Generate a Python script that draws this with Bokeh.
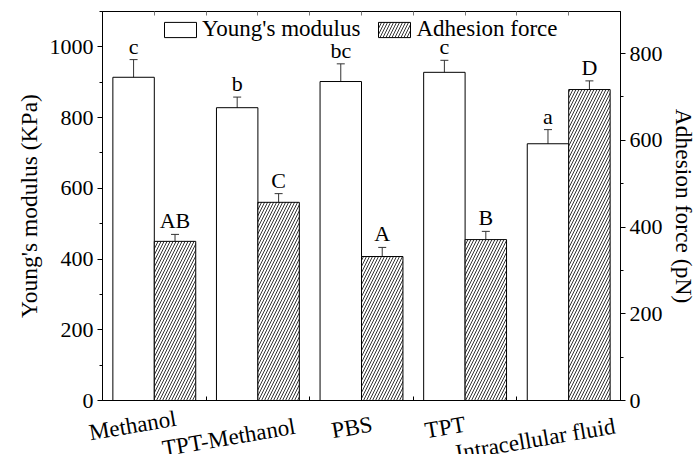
import numpy as np
from bokeh.plotting import figure
from bokeh.layouts import column
from bokeh.models import (Range1d, LinearAxis, ColumnDataSource, Whisker, LabelSet,
                          Legend, LegendItem, FixedTicker, SingleIntervalTicker, TeeHead)
from bokeh.embed import file_html
from bokeh.resources import INLINE

# ---------------- data ----------------
categories = ["Methanol", "TPT-Methanol", "PBS", "TPT", "Intracellular fluid"]
youngs_modulus = [914, 828, 902, 928, 726]          # KPa
youngs_err = [50, 30, 50, 34, 40]
youngs_letters = ["c", "b", "bc", "c", "a"]
adhesion_force = [367, 457, 332, 371, 717]          # pN
adhesion_err = [16, 20, 21, 19, 20]
adhesion_letters = ["AB", "C", "A", "B", "D"]

# ---------------- layout / style ----------------
FONT = "Liberation Serif"
W = 699
BORDER_L, BORDER_R, BORDER_T = 102, 76, 11
FRAME_BOTTOM = 400    # y pixel of the x axis line
MAIN_H = 410          # main chart height
LABEL_H = 44          # strip under the chart holding the category labels
label_dx = [-22, -30, -11, -22, -36]   # manual placement of category labels (px)
label_dy = [-25, -37, -27, -27, -39]
BAR_W = 0.4
ERR_COLOR = "#333333"

n = len(categories)
x_center = np.arange(n) + 0.5
src = ColumnDataSource(dict(
    x_y=x_center - BAR_W / 2,
    x_a=x_center + BAR_W / 2,
    ym=youngs_modulus,
    ym_up=[v + e for v, e in zip(youngs_modulus, youngs_err)],
    ym_lo=[v - e for v, e in zip(youngs_modulus, youngs_err)],
    yl=youngs_letters,
    af=adhesion_force,
    af_up=[v + e for v, e in zip(adhesion_force, adhesion_err)],
    af_lo=[v - e for v, e in zip(adhesion_force, adhesion_err)],
    al=adhesion_letters,
))

p = figure(width=W, height=MAIN_H, x_range=Range1d(0, n), y_range=Range1d(0, 1100),
           output_backend="svg", toolbar_location=None,
           min_border_left=BORDER_L, min_border_right=BORDER_R, min_border_top=BORDER_T,
           min_border_bottom=MAIN_H - FRAME_BOTTOM)
p.frame_align = False
p.extra_y_ranges = {"right": Range1d(0, 897)}
p.xgrid.visible = False
p.ygrid.visible = False
p.outline_line_color = "black"
p.outline_line_alpha = 1.0
p.background_fill_color = "white"
p.border_fill_color = "white"

r1 = p.vbar(x="x_y", top="ym", width=BAR_W, source=src, fill_color="white",
            line_color="black", line_width=1)
r2 = p.vbar(x="x_a", top="af", width=BAR_W, source=src, fill_color="white",
            line_color="black", line_width=1, hatch_pattern="/", hatch_color="black",
            hatch_scale=6, hatch_weight=0.8, y_range_name="right")

for base, up, lo, rng in (("x_y", "ym_up", "ym_lo", "default"), ("x_a", "af_up", "af_lo", "right")):
    w = Whisker(base=base, upper=up, lower=lo, source=src, line_color=ERR_COLOR, line_width=1,
                upper_head=TeeHead(size=8, line_color=ERR_COLOR, line_width=1),
                lower_head=TeeHead(size=8, line_color=ERR_COLOR, line_width=1),
                y_range_name=rng)
    p.add_layout(w)

p.add_layout(LabelSet(x="x_y", y="ym_up", text="yl", source=src, text_align="center",
                      text_baseline="alphabetic", y_offset=6, text_font=FONT,
                      text_font_size="22px", text_color="black"))
p.add_layout(LabelSet(x="x_a", y="af_up", text="al", source=src, text_align="center",
                      text_baseline="alphabetic", y_offset=6, text_font=FONT,
                      text_font_size="22px", text_color="black", y_range_name="right"))

# left / right axes
ya = p.yaxis[0]
ya.ticker = SingleIntervalTicker(interval=200, num_minor_ticks=2)
ya.axis_label = "Young's modulus (KPa)"
right_ax = LinearAxis(y_range_name="right", axis_label="Adhesion force (pN)",
                      ticker=SingleIntervalTicker(interval=200, num_minor_ticks=2))
p.add_layout(right_ax, "right")
for ax in (ya, right_ax):
    ax.major_tick_out = 5
    ax.major_tick_in = 0
    ax.minor_tick_out = 3
    ax.minor_tick_in = 0
    ax.major_label_standoff = 4
    ax.major_label_text_font = FONT
    ax.major_label_text_font_size = "22px"
    ax.major_label_text_color = "black"
    ax.axis_label_text_font = FONT
    ax.axis_label_text_font_size = "23.5px"
    ax.axis_label_text_font_style = "normal"
    ax.axis_label_text_color = "black"
    ax.axis_label_standoff = 5
    ax.axis_line_color = "black"
    ax.major_tick_line_color = "black"
    ax.minor_tick_line_color = "black"

# bottom axis: only short inward ticks at the group boundaries
xa = p.xaxis[0]
xa.ticker = FixedTicker(ticks=[], minor_ticks=list(np.arange(1, n)))
xa.major_tick_in = 0
xa.major_tick_out = 0
xa.minor_tick_in = 4
xa.minor_tick_out = 0
xa.major_label_standoff = 0
xa.axis_line_color = "black"
xa.minor_tick_line_color = "black"

# top axis: short inward ticks at group centres and boundaries
top_ax = LinearAxis(ticker=FixedTicker(ticks=[], minor_ticks=sorted(list(x_center) + list(np.arange(1, n)))))
top_ax.major_tick_in = 0
top_ax.major_tick_out = 0
top_ax.minor_tick_in = 4
top_ax.minor_tick_out = 0
top_ax.major_label_standoff = 0
top_ax.axis_line_color = "black"
top_ax.minor_tick_line_color = "#777777"
p.add_layout(top_ax, "above")

legend = Legend(items=[LegendItem(label="Young's modulus", renderers=[r1]),
                       LegendItem(label="Adhesion force", renderers=[r2])],
                orientation="horizontal", location=(58, 358), glyph_width=40, glyph_height=19,
                label_standoff=2, spacing=14, padding=0, margin=0, border_line_color=None,
                background_fill_alpha=0, label_text_font=FONT, label_text_font_size="23px",
                label_text_color="black", label_height=19)
p.add_layout(legend)

# ---- strip below the chart with the rotated category labels (same x scale as the chart) ----
px_per_cat = (W - BORDER_L - BORDER_R) / n
lab_src = ColumnDataSource(dict(xc=x_center, zero=[0] * n, cat=categories, dx=label_dx, dy=label_dy))
gap = MAIN_H - FRAME_BOTTOM
p2 = figure(width=W, height=LABEL_H, output_backend="svg", toolbar_location=None,
            x_range=Range1d(-BORDER_L / px_per_cat, n + BORDER_R / px_per_cat),
            y_range=Range1d(-gap - LABEL_H, -gap),
            x_axis_type=None, y_axis_type=None,
            min_border_left=0, min_border_right=0, min_border_top=0, min_border_bottom=0)
p2.frame_align = False
p2.xgrid.visible = False
p2.ygrid.visible = False
p2.outline_line_color = None
p2.background_fill_color = "white"
p2.border_fill_color = "white"
p2.add_layout(LabelSet(x="xc", y="zero", text="cat", source=lab_src, x_offset="dx", y_offset="dy",
                       angle=0.17, text_align="center", text_baseline="middle", text_font=FONT,
                       text_font_size="23px", text_color="black"))

layout = column(p, p2, spacing=0)
open("out.html", "w").write(file_html(layout, INLINE))
